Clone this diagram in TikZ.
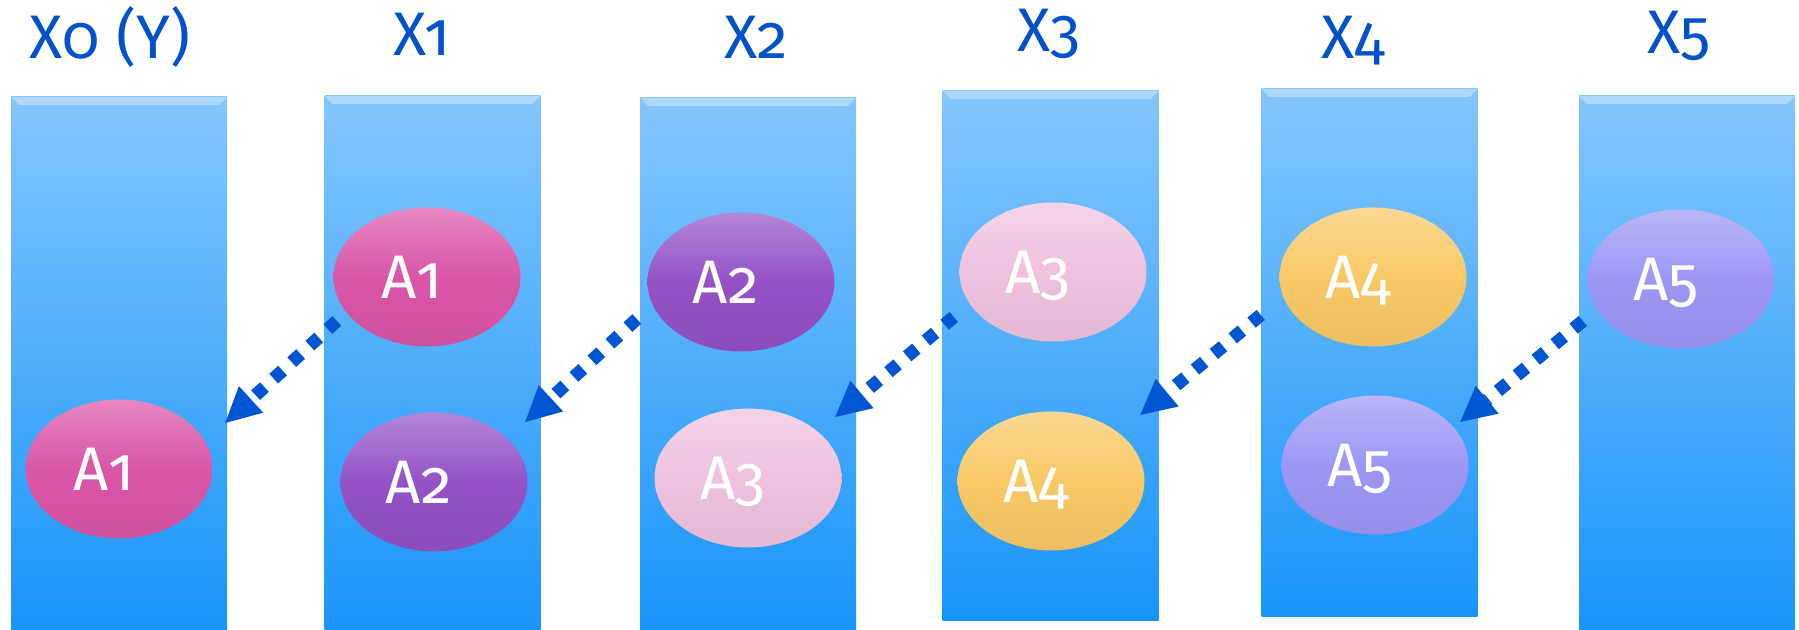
\documentclass[tikz,border=0pt]{standalone}
\usepackage{fontspec}
\setmainfont{Fira Sans}[Numbers=OldStyle]
\usetikzlibrary{arrows.meta, shapes, calc}

\definecolor{titleblue}{HTML}{0052CC}
\definecolor{linkblue}{HTML}{0055D2}
\definecolor{coltop}{HTML}{84C6FC}
\definecolor{colbot}{HTML}{1895FA}
\definecolor{pinkA}{HTML}{DA55A8}
\definecolor{purpleA}{HTML}{9452C6}
\definecolor{roseA}{HTML}{EFC2DE}
\definecolor{goldA}{HTML}{F9C966}
\definecolor{lilacA}{HTML}{9C97F4}

\begin{document}
\begin{tikzpicture}[
    x=0.1mm, y=-0.1mm,
    column/.style={rectangle, minimum width=21.6mm, minimum height=#1, inner sep=0pt,
        top color=coltop, bottom color=colbot,
        path picture={\fill[white, opacity=0.35] (path picture bounding box.north west)
            -- (path picture bounding box.north east) -- ++(-8,8)
            -- ([shift={(8,8)}]path picture bounding box.north west) -- cycle;}},
    blob/.style={ellipse, minimum width=18.7mm, minimum height=13.9mm, inner sep=0pt,
        top color=#1!70!white, bottom color=#1!95!black, middle color=#1,
        text=white, text depth=0pt, font=\fontsize{17.5}{20}\selectfont,
        execute at begin node={\kern-3mm}},
    title/.style={anchor=base, inner sep=0pt, text=titleblue, font=\fontsize{17.5}{20}\selectfont},
    link/.style={draw=linkblue, line width=1.3mm, dash pattern=on 1.2mm off 1.25mm,
        -{Triangle[length=3.5mm, width=3.6mm, line width=0pt]}}
]
\useasboundingbox (0,0) rectangle (1799,630);

% Columns
\node[column=53.3mm] (c0) at (119,363.5) {};
\node[column=53.4mm] (c1) at (432.5,363) {};
\node[column=53.2mm] (c2) at (748,364) {};
\node[column=53.0mm] (c3) at (1050.5,356) {};
\node[column=52.8mm] (c4) at (1369.5,353) {};
\node[column=53.4mm] (c5) at (1687,363) {};

% Titles
\node[title] (t0) at (110,59) {X0 (Y)};
\node[title] (t1) at (422,56) {X1};
\node[title] (t2) at (756,59) {X2};
\node[title] (t3) at (1049,52) {X3};
\node[title] (t4) at (1353,59) {X4};
\node[title] (t5) at (1679,54) {X5};

% Ellipses
\node[blob=pinkA] (a1x0) at (119,469) {A1};
\node[blob=pinkA] (a1x1) at (427,277) {A1};
\node[blob=purpleA] (a2x1) at (434,482) {A2};
\node[blob=purpleA] (a2x2) at (741,282) {A2};
\node[blob=roseA] (a3x2) at (748,478) {A3};
\node[blob=roseA] (a3x3) at (1053,272) {A3};
\node[blob=goldA] (a4x3) at (1051,481) {A4};
\node[blob=goldA] (a4x4) at (1373,277) {A4};
\node[blob=lilacA] (a5x4) at (1375,465) {A5};
\node[blob=lilacA] (a5x5) at (1681,279) {A5};

% Links
\draw[link] ([shift={(4,44)}]a1x1.west) -- ([shift={(12,-46)}]a1x0.east);
\draw[link] ([shift={(-10,37)}]a2x2.west) -- ([shift={(-3,-60)}]a2x1.east);
\draw[link] ([shift={(-5,45)}]a3x3.west) -- ([shift={(-7,-61)}]a3x2.east);
\draw[link] ([shift={(-18,38)}]a4x4.west) -- ([shift={(-5,-66)}]a4x3.east);
\draw[link] ([shift={(-4,42)}]a5x5.west) -- ([shift={(-9,-43)}]a5x4.east);

\end{tikzpicture}
\end{document}
